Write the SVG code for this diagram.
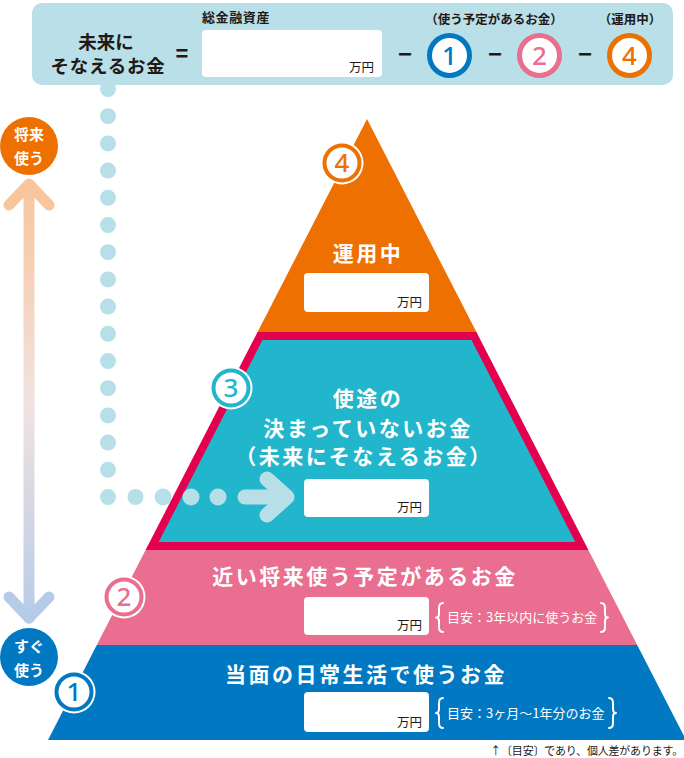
<svg xmlns="http://www.w3.org/2000/svg" width="684" height="758" viewBox="0 0 684 758">
<defs>
<style>
.jp{font-family:"Noto Sans CJK JP","Noto Sans",sans-serif;}
.dk{fill:#231815;}
.wt{fill:#ffffff;}
.title{font-size:21px;font-weight:700;letter-spacing:2.5px;text-anchor:middle;fill:#ffffff;}
.box{fill:#ffffff;}
.man{font-size:12.5px;text-anchor:end;fill:#231815;}
.num{font-family:"Noto Sans","Roboto",sans-serif;font-size:26px;font-weight:500;text-anchor:middle;}
.dot{fill:#b7dfe8;}
.brace{fill:none;stroke:#ffffff;stroke-width:2;stroke-linecap:round;stroke-linejoin:round;}
.note{font-size:13px;fill:#ffffff;}
</style>
<linearGradient id="vg" gradientUnits="userSpaceOnUse" x1="0" y1="180" x2="0" y2="625">
<stop offset="0" stop-color="#f8c59c"/>
<stop offset="0.5" stop-color="#f1e2e0"/>
<stop offset="1" stop-color="#b6cbe8"/>
</linearGradient>
</defs>

<!-- connectors: dotted line and arrows -->
<g id="connectors">
<g id="dots">
<circle class="dot" cx="108" cy="89" r="8"/>
<circle class="dot" cx="108" cy="116.2" r="8"/>
<circle class="dot" cx="108" cy="143.4" r="8"/>
<circle class="dot" cx="108" cy="170.6" r="8"/>
<circle class="dot" cx="108" cy="197.8" r="8"/>
<circle class="dot" cx="108" cy="225" r="8"/>
<circle class="dot" cx="108" cy="252.2" r="8"/>
<circle class="dot" cx="108" cy="279.4" r="8"/>
<circle class="dot" cx="108" cy="306.6" r="8"/>
<circle class="dot" cx="108" cy="333.8" r="8"/>
<circle class="dot" cx="108" cy="361" r="8"/>
<circle class="dot" cx="108" cy="388.2" r="8"/>
<circle class="dot" cx="108" cy="415.4" r="8"/>
<circle class="dot" cx="108" cy="442.6" r="8"/>
<circle class="dot" cx="108" cy="469.8" r="8"/>
<circle class="dot" cx="108" cy="497" r="8"/>
<circle class="dot" cx="135.5" cy="497" r="8"/>
</g>
</g>

<!-- top panel -->
<g id="formula">
<rect x="32" y="3" width="641" height="82" rx="10" fill="#b9e0e8"/>
<text class="jp dk" x="106" y="48.5" font-size="18.5" font-weight="700" text-anchor="middle">未来に</text>
<text class="jp dk" x="108" y="73" font-size="18.5" font-weight="700" text-anchor="middle" letter-spacing="0.8">そなえるお金</text>
<text x="182" y="61" font-family="Liberation Sans, sans-serif" font-size="22" font-weight="700" text-anchor="middle" class="dk">=</text>
<text class="jp dk" x="202" y="22" font-size="13" font-weight="700" letter-spacing="0.6">総金融資産</text>
<rect class="box" x="202" y="30" width="180" height="47" rx="4"/>
<text class="jp man" x="374" y="72">万円</text>
<text x="405" y="62" font-family="Liberation Sans, sans-serif" font-size="24" font-weight="700" text-anchor="middle" class="dk">−</text>
<text x="495" y="62" font-family="Liberation Sans, sans-serif" font-size="24" font-weight="700" text-anchor="middle" class="dk">−</text>
<text x="585" y="62" font-family="Liberation Sans, sans-serif" font-size="24" font-weight="700" text-anchor="middle" class="dk">−</text>
<text class="jp dk" x="494" y="24" font-size="12.5" font-weight="700" text-anchor="middle">（使う予定があるお金）</text>
<text class="jp dk" x="630" y="24" font-size="12.5" font-weight="700" text-anchor="middle">（運用中）</text>
<circle cx="449.5" cy="55.5" r="20" fill="#ffffff" stroke="#0079c2" stroke-width="5"/>
<text class="num" x="449.5" y="64.5" fill="#0079c2">1</text>
<circle cx="539.5" cy="55.5" r="20" fill="#ffffff" stroke="#e96e8f" stroke-width="5"/>
<text class="num" x="539.5" y="64.5" fill="#e96e8f">2</text>
<circle cx="629.5" cy="55.5" r="20" fill="#ffffff" stroke="#ee7000" stroke-width="5"/>
<text class="num" x="629.5" y="64.5" fill="#ee7000">4</text>
</g>

<!-- time axis -->
<g id="axis">
<line x1="29" y1="186" x2="29" y2="618" stroke="url(#vg)" stroke-width="11" stroke-linecap="round"/>
<polyline points="9,205 29,184 49,205" fill="none" stroke="#f8c59c" stroke-width="11" stroke-linecap="round" stroke-linejoin="round"/>
<polyline points="9,597 29,618 49,597" fill="none" stroke="#b6cbe8" stroke-width="11" stroke-linecap="round" stroke-linejoin="round"/>
</g>
<g id="future">
<circle cx="29" cy="146" r="29" fill="#ee7000"/>
<text class="jp wt" x="29" y="140" font-size="15" font-weight="700" text-anchor="middle">将来</text>
<text class="jp wt" x="29" y="164" font-size="15" font-weight="700" text-anchor="middle">使う</text>
</g>
<g id="soon">
<circle cx="29" cy="657" r="29" fill="#0079c2"/>
<text class="jp wt" x="29" y="652" font-size="15" font-weight="700" text-anchor="middle">すぐ</text>
<text class="jp wt" x="29" y="676" font-size="15" font-weight="700" text-anchor="middle">使う</text>
</g>

<!-- pyramid level 4 -->
<g id="level4">
<polygon points="367,119 256.6,334 477.4,334" fill="#ee7000"/>
<text class="jp title" x="368" y="261">運用中</text>
<rect class="box" x="304" y="273" width="125" height="39" rx="4"/>
<text class="jp man" x="422" y="307">万円</text>
<circle cx="342" cy="163" r="21.5" fill="#ffffff"/>
<circle cx="342" cy="163" r="17.5" fill="#ffffff" stroke="#ee7000" stroke-width="4"/>
<text class="num" x="342" y="172" fill="#ee7000" font-size="24">4</text>
</g>

<!-- pyramid level 3 -->
<g id="level3">
<polygon points="257.6,332 476.4,332 588.4,550 145.6,550" fill="#e4004f"/>
<polygon points="262.5,340 471.5,340 575.3,542 158.7,542" fill="#22b6cc"/>
<text class="jp title" x="368" y="406">使途の</text>
<text class="jp title" x="368" y="436">決まっていないお金</text>
<text class="jp title" x="364" y="464" font-size="19" letter-spacing="0.3">（未来にそなえるお金）</text>
<rect class="box" x="304" y="479" width="125" height="38" rx="4"/>
<text class="jp man" x="422" y="512">万円</text>
<circle cx="231" cy="388" r="21.5" fill="#ffffff"/>
<circle cx="231" cy="388" r="17.5" fill="#ffffff" stroke="#22b6cc" stroke-width="4"/>
<text class="num" x="231" y="397" fill="#22b6cc" font-size="24">3</text>
</g>

<!-- dotted connector continuation into level 3 -->
<g id="connector-arrow">
<circle class="dot" cx="163" cy="497" r="8.5"/>
<circle class="dot" cx="191" cy="497" r="8.5"/>
<circle class="dot" cx="218" cy="497" r="8.5"/>
<line x1="245" y1="497" x2="284" y2="497" stroke="#b7dfe8" stroke-width="15" stroke-linecap="round"/>
<polyline points="267,479 287,497 267,515" fill="none" stroke="#b7dfe8" stroke-width="15" stroke-linecap="round" stroke-linejoin="round"/>
</g>

<!-- pyramid level 2 -->
<g id="level2">
<polygon points="145.6,550 588.4,550 637.2,645 96.8,645" fill="#e96e8f"/>
<text class="jp title" x="365" y="584">近い将来使う予定があるお金</text>
<rect class="box" x="304" y="597" width="125" height="38" rx="4"/>
<text class="jp man" x="422" y="630">万円</text>
<path class="brace" d="M443,603 Q439,603 439,608 L439,614 Q439,617.5 436,617.5 Q439,617.5 439,621 L439,627 Q439,632 443,632"/>
<text class="jp note" x="447" y="621.5">目安：3年以内に使うお金</text>
<path class="brace" d="M601,603 Q605,603 605,608 L605,614 Q605,617.5 608,617.5 Q605,617.5 605,621 L605,627 Q605,632 601,632"/>
<circle cx="124" cy="597" r="21.5" fill="#ffffff"/>
<circle cx="124" cy="597" r="17.5" fill="#ffffff" stroke="#e96e8f" stroke-width="4"/>
<text class="num" x="124" y="606" fill="#e96e8f" font-size="24">2</text>
</g>

<!-- pyramid level 1 -->
<g id="level1">
<polygon points="96.8,645 637.2,645 686,740 48,740" fill="#0079c2"/>
<text class="jp title" x="366" y="682">当面の日常生活で使うお金</text>
<rect class="box" x="304" y="692" width="125" height="40" rx="4"/>
<text class="jp man" x="422" y="727">万円</text>
<path class="brace" d="M443,698 Q439,698 439,703 L439,709 Q439,713 436,713 Q439,713 439,717 L439,723 Q439,728 443,728"/>
<text class="jp note" x="447" y="718">目安：3ヶ月〜1年分のお金</text>
<path class="brace" d="M609,698 Q613,698 613,703 L613,709 Q613,713 616,713 Q613,713 613,717 L613,723 Q613,728 609,728"/>
<circle cx="74" cy="692" r="21.5" fill="#ffffff"/>
<circle cx="74" cy="692" r="17.5" fill="#ffffff" stroke="#0079c2" stroke-width="4"/>
<text class="num" x="74" y="701" fill="#0079c2" font-size="24">1</text>
</g>

<g id="footnote">
<text class="jp dk" x="683" y="755" font-size="11" text-anchor="end" letter-spacing="-0.2">↑〔目安〕であり、個人差があります。</text>
</g>
</svg>
